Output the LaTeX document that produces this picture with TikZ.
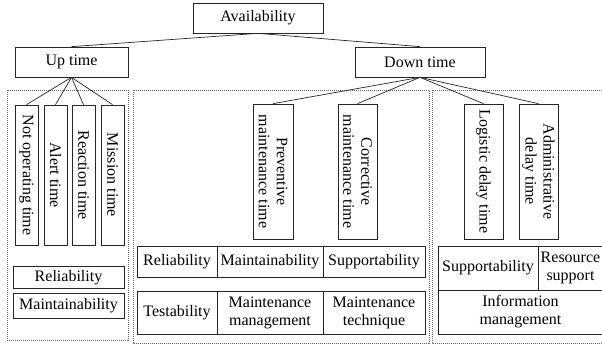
\documentclass[tikz,border=0pt]{standalone}
\usepackage{fontspec}
\setmainfont{Liberation Serif}
\usetikzlibrary{positioning, calc}
\tikzset{
    box/.style={draw=black!85, line width=0.7pt, inner sep=1pt, align=center,
      font=\fontsize{16}{18}\selectfont},
    vbox/.append style={box, rotate=-90},
    group/.style={draw=black!60, line width=0.8pt, dash pattern=on 1pt off 1pt},
    link/.style={draw=black!85, line width=0.7pt},
}

\begin{document}
\begin{tikzpicture}[x=1pt, y=-1pt]
    \useasboundingbox (0,0) rectangle (602,345);

    \node[box, minimum width=130pt, minimum height=30pt] (avail) at (258,18) {Availability};
    \node[box, minimum width=113pt, minimum height=30pt] (up) at (71.5,62) {Up time};
    \node[box, minimum width=130pt, minimum height=30pt] (down) at (420,62) {Down time};

    \draw[group] (7,90) rectangle (128,340);
    \draw[group] (133,90) rectangle (429,343);
    \draw[group] (432,90) rectangle (606,343);

    \node[vbox, minimum width=140pt, minimum height=23pt] (notop) at (26.5,175) {Not operating time};
    \node[vbox, minimum width=140pt, minimum height=23pt] (alert) at (55.5,175) {Alert time};
    \node[vbox, minimum width=140pt, minimum height=23pt] (react) at (83.5,175) {Reaction time};
    \node[vbox, minimum width=140pt, minimum height=23pt] (mission) at (112.5,175) {Mission time};
    \node[box, minimum width=111pt, minimum height=22pt] (rel1) at (68.5,277.5) {Reliability};
    \node[box, minimum width=111pt, minimum height=25pt] (main1) at (68.5,305.5) {Maintainability};

    \node[vbox, minimum width=135pt, minimum height=40pt] (prev) at (273,171.5) {Preventive\\maintenance time};
    \node[vbox, minimum width=135pt, minimum height=39pt] (corr) at (357.5,171.5) {Corrective\\maintenance time};
    \node[box, minimum width=80pt, minimum height=31pt] (rel2) at (177,261.5) {Reliability};
    \node[box, minimum width=106pt, minimum height=31pt] (main2) at (270,261.5) {Maintainability};
    \node[box, minimum width=102pt, minimum height=31pt] (sup2) at (374,261.5) {Supportability};
    \node[box, minimum width=80pt, minimum height=43pt] (test) at (177,312.5) {Testability};
    \node[box, minimum width=106pt, minimum height=43pt] (mman) at (270,312.5) {Maintenance\\management};
    \node[box, minimum width=102pt, minimum height=43pt] (mtech) at (374,312.5) {Maintenance\\technique};

    \node[vbox, minimum width=135pt, minimum height=39pt] (logist) at (483.5,171.5) {Logistic delay time};
    \node[vbox, minimum width=135pt, minimum height=39pt] (admin) at (538.5,171.5) {Administrative\\delay time};
    \node[box, minimum width=100pt, minimum height=44pt] (sup3) at (488,268) {Supportability};
    \node[box, minimum width=65pt, minimum height=44pt] (res) at (570.5,268) {Resource\\support};
    \node[box, minimum width=165pt, minimum height=44pt] (info) at (520.5,312) {Information\\management};

    \draw (avail.south) edge[link] (up.north);
    \draw (avail.south) edge[link] (down.north);
    \foreach \n in {notop, alert, react, mission}
      \draw (up.south) edge[link] (\n.west);
    \foreach \n in {prev, corr, logist, admin}
      \draw (down.south) edge[link] (\n.west);
\end{tikzpicture}
\end{document}
